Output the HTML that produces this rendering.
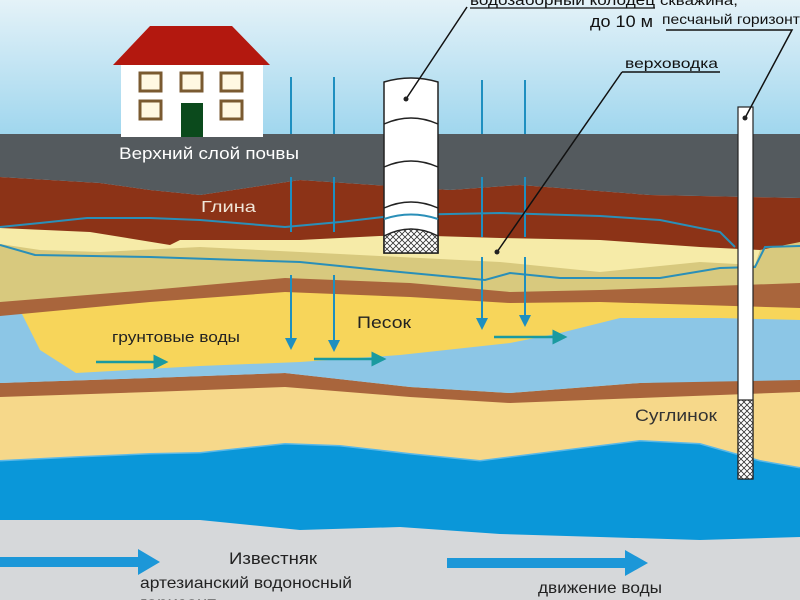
<!DOCTYPE html>
<html><head><meta charset="utf-8"><style>
html,body{margin:0;padding:0;width:800px;height:600px;overflow:hidden;background:#fff}
svg{display:block}
text{font-family:"Liberation Sans",sans-serif;font-size:15px}
</style></head><body>
<svg width="800" height="600" viewBox="0 0 800 600" xmlns="http://www.w3.org/2000/svg">
<defs>
<linearGradient id="sky" x1="0" y1="0" x2="0" y2="1">
<stop offset="0" stop-color="#e4f2f8"/><stop offset="1" stop-color="#9fd6ee"/>
</linearGradient>
<pattern id="hatch" width="6" height="6" patternUnits="userSpaceOnUse">
<rect width="6" height="6" fill="#fff"/>
<path d="M0 0L6 6M6 0L0 6" stroke="#333" stroke-width="0.8"/>
</pattern>
<marker id="ah" markerWidth="6" markerHeight="6" refX="5" refY="3" orient="auto"><path d="M0 0L6 3L0 6z" fill="#1e8fc0"/></marker>
<marker id="ag" markerWidth="6" markerHeight="6" refX="5" refY="3" orient="auto"><path d="M0 0L6 3L0 6z" fill="#1a9aa0"/></marker>
</defs>
<rect width="800" height="136" fill="url(#sky)"/>
<rect y="136" width="800" height="464" fill="#d6d8da"/>
<!-- deep blue -->
<path d="M0 440 L800 440 L800 537 L700 540 L600 537 L500 534 L400 527 L300 530 L200 520 L100 520 L0 520Z" fill="#0a97d9"/>
<path d="M0 460 L80 456 L150 453 L200 452 L285 443 L340 445 L410 453 L480 460 L560 450 L640 440 L700 443 L760 460 L800 467" fill="none" stroke="#5ab8e8" stroke-width="3"/>
<!-- suglinok -->
<path d="M0 385 L800 380 L800 467 L760 460 L700 443 L640 440 L560 450 L480 460 L410 453 L340 445 L285 443 L200 452 L150 453 L80 456 L0 460Z" fill="#f6d88a"/>
<!-- second brown -->
<path d="M0 383 L150 378 L285 373 L410 387 L510 393 L640 383 L800 377 L800 392 L640 398 L510 403 L410 397 L285 387 L150 392 L0 397Z" fill="#a9653c"/>
<!-- light blue region -->
<path d="M0 270 L800 270 L800 380 L640 383 L510 393 L410 387 L285 373 L150 378 L0 383Z" fill="#8cc6e6"/>
<!-- yellow sand lens -->
<path d="M10 290 L800 285 L800 320 L720 318 L620 318 L560 333 L510 343 L400 355 L300 362 L200 366 L76 373 L40 350 Z" fill="#f7d55a"/>
<!-- olive band -->
<path d="M0 228 L800 240 L800 290 L700 292 L600 294 L510 296 L410 290 L285 285 L150 296 L0 308Z" fill="#d8c97e"/>
<!-- pale yellow -->
<path d="M0 228 L800 240 L760 250 L755 265 L700 262 L600 272 L500 262 L420 258 L300 252 L200 247 L100 252 L40 250 L0 244Z" fill="#f6eba8"/>
<!-- first brown stripe -->
<path d="M0 302 L150 290 L285 278 L410 283 L510 292 L600 290 L800 283 L800 308 L600 302 L510 303 L410 297 L285 292 L150 302 L0 316Z" fill="#a9653c"/>
<!-- clay brown -->
<path d="M0 177 L100 183 L150 190 L200 195 L300 180 L450 190 L520 185 L650 195 L800 198 L800 242 L760 250 L700 247 L600 240 L500 238 L400 235 L300 240 L180 240 L170 245 L90 232 L0 228Z" fill="#8c3317"/>
<!-- topsoil gray -->
<path d="M0 134 L800 134 L800 198 L650 195 L520 185 L450 190 L300 180 L200 195 L150 190 L100 183 L0 177Z" fill="#545a5e"/>
<!-- water lines -->
<path d="M0 227 L40 223 L87 218 L150 218 L200 220 L285 227 L340 222 L400 215 L500 213 L600 216 L660 220 L720 232 L735 247" fill="none" stroke="#2a8fb8" stroke-width="2"/>
<path d="M0 245 L35 255 L150 257 L300 262 L400 272 L485 280 L510 273 L560 278 L660 278 L720 268 L755 267 L765 247 L800 246" fill="none" stroke="#2a8fb8" stroke-width="2"/>
<g stroke="#1e8fc0" stroke-width="2">
<line x1="291" y1="77" x2="291" y2="134"/><line x1="334" y1="77" x2="334" y2="134"/>
<line x1="482" y1="80" x2="482" y2="134"/><line x1="525" y1="80" x2="525" y2="134"/>
<line x1="291" y1="177" x2="291" y2="232"/><line x1="334" y1="177" x2="334" y2="232"/>
<line x1="482" y1="177" x2="482" y2="237"/><line x1="525" y1="177" x2="525" y2="237"/>
<line x1="291" y1="275" x2="291" y2="348" marker-end="url(#ah)"/><line x1="334" y1="275" x2="334" y2="350" marker-end="url(#ah)"/>
<line x1="482" y1="257" x2="482" y2="328" marker-end="url(#ah)"/><line x1="525" y1="257" x2="525" y2="325" marker-end="url(#ah)"/>
</g>
<g stroke="#1a9aa0" stroke-width="2.5">
<line x1="96" y1="362" x2="166" y2="362" marker-end="url(#ag)"/>
<line x1="314" y1="359" x2="384" y2="359" marker-end="url(#ag)"/>
<line x1="494" y1="337" x2="565" y2="337" marker-end="url(#ag)"/>
</g>
<path d="M0 557 L138 557 L138 549 L160 562 L138 575 L138 567 L0 567Z" fill="#1c97d8"/>
<path d="M447 558 L625 558 L625 550 L648 563 L625 576 L625 568 L447 568Z" fill="#1c97d8"/>
<!-- house -->
<path d="M150 26 L232 26 L270 65 L113 65Z" fill="#b3180f"/>
<rect x="121" y="65" width="142" height="72" fill="#fff"/>
<g fill="#fff8e2" stroke="#7a5a30" stroke-width="3">
<rect x="140" y="73" width="21" height="18"/><rect x="181" y="73" width="21" height="18"/><rect x="221" y="73" width="21" height="18"/>
<rect x="140" y="101" width="21" height="18"/><rect x="221" y="101" width="21" height="18"/>
</g>
<rect x="181" y="103" width="22" height="34" fill="#0b4a1c"/>
<!-- well -->
<path d="M384 82 Q411 74 438 82 L438 253 L384 253Z" fill="#fff" stroke="#222" stroke-width="1.5"/>
<path d="M384 236 Q411 222 438 236 L438 253 L384 253Z" fill="url(#hatch)" stroke="#222" stroke-width="1.5"/>
<g fill="none" stroke="#222" stroke-width="1.5">
<path d="M384 124 Q411 112 438 124"/><path d="M384 167 Q411 155 438 167"/><path d="M384 208 Q411 196 438 208"/>
</g>
<path d="M384 219 Q411 210 438 219" fill="none" stroke="#2a8fb8" stroke-width="2"/>
<!-- borehole -->
<rect x="738" y="107" width="15" height="372" fill="#fff" stroke="#222" stroke-width="1.2"/>
<rect x="738" y="400" width="15" height="79" fill="url(#hatch)" stroke="#222" stroke-width="1.2"/>
<g stroke="#111" stroke-width="1.5" fill="none">
<path d="M406 99 L467 7"/>
<path d="M666 30 L792 30 L745 118"/>
<path d="M622 72 L720 72"/><path d="M622 72 L497 252"/>
</g>
<circle cx="406" cy="99" r="2.5" fill="#222"/>
<circle cx="745" cy="118" r="2.5" fill="#222"/>
<circle cx="497" cy="252" r="2.5" fill="#222"/>
<text x="470" y="5" textLength="185" lengthAdjust="spacingAndGlyphs" fill="#111">водозаборный колодец</text>
<line x1="470" y1="8" x2="655" y2="8" stroke="#111" stroke-width="1.2"/>
<text x="590" y="27" textLength="63" lengthAdjust="spacingAndGlyphs" fill="#111" style="font-size:17px">до 10 м</text>
<text x="660" y="5" textLength="78" lengthAdjust="spacingAndGlyphs" fill="#111" style="font-size:14px">скважина,</text>
<text x="662" y="24" textLength="138" lengthAdjust="spacingAndGlyphs" fill="#111" style="font-size:14px">песчаный горизонт</text>
<text x="625" y="68" textLength="93" lengthAdjust="spacingAndGlyphs" fill="#111" style="font-size:14px">верховодка</text>
<text x="119" y="159" textLength="180" lengthAdjust="spacingAndGlyphs" fill="#fff" style="font-size:17px">Верхний слой почвы</text>
<text x="201" y="212" textLength="55" lengthAdjust="spacingAndGlyphs" fill="#f0e6d8" style="font-size:16px">Глина</text>
<text x="357" y="328" textLength="54" lengthAdjust="spacingAndGlyphs" fill="#222" style="font-size:17px">Песок</text>
<text x="112" y="342" textLength="128" lengthAdjust="spacingAndGlyphs" fill="#222" style="font-size:15px">грунтовые воды</text>
<text x="635" y="421" textLength="82" lengthAdjust="spacingAndGlyphs" fill="#333" style="font-size:17px">Суглинок</text>
<text x="229" y="564" textLength="88" lengthAdjust="spacingAndGlyphs" fill="#222" style="font-size:17px">Известняк</text>
<text x="140" y="588" textLength="212" lengthAdjust="spacingAndGlyphs" fill="#222" style="font-size:16px">артезианский водоносный</text>
<text x="140" y="608" textLength="76" lengthAdjust="spacingAndGlyphs" fill="#222" style="font-size:16px">горизонт</text>
<text x="538" y="593" textLength="124" lengthAdjust="spacingAndGlyphs" fill="#222" style="font-size:16px">движение воды</text>
</svg>
</body></html>
